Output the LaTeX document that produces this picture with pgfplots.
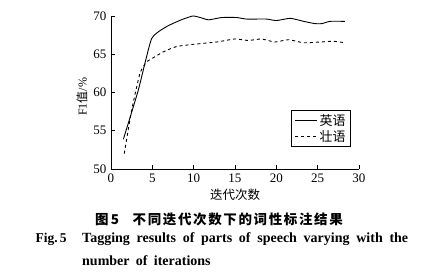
\documentclass[border=0pt]{standalone}
\usepackage{pgfplots}
\pgfplotsset{compat=1.18}
\usepackage{fontspec}
\setmainfont{Liberation Serif}
\newfontfamily\cjk{Noto Sans CJK SC}
\newfontfamily\cjkls[LetterSpace=12]{Noto Sans CJK SC}
\begin{document}
\begin{tikzpicture}
\path[use as bounding box] (0,0) rectangle (424pt,272pt);
\begin{axis}[
  at={(111pt,103pt)}, anchor=south west,
  scale only axis, width=248pt, height=153pt,
  xmin=0, xmax=30, ymin=50, ymax=70,
  axis x line*=bottom, axis y line*=left,
  axis line style={line width=0.8pt},
  xtick={0,5,...,30}, ytick={50,55,...,70},
  tick align=inside, major tick length=4pt,
  tick style={line width=0.7pt, black},
  tick label style={font=\fontsize{13}{13}\selectfont},
  /pgf/number format/assume math mode=true,
  xticklabel style={yshift=-1pt},
  yticklabel style={xshift=-1pt},
  clip=false,
  legend style={at={(0.968,0.144)}, anchor=south east, draw=black, line width=0.8pt,
    font=\cjk\fontsize{13}{15}\selectfont, inner xsep=3pt, inner ysep=2pt, row sep=-1pt,
    cells={anchor=west}},
  legend image code/.code={\draw[#1] (0pt,0pt) -- (22pt,0pt);},
]
\addplot[black, line width=0.9pt, smooth, tension=0.3] coordinates {
(1.5,53.9) (3.3,60.3) (4.9,67.0) (6.7,68.6) (8.5,69.5) (9.9,70.0) (10.8,69.8)
(11.8,69.5) (13.4,69.8) (15.2,69.8) (16.4,69.6) (18.8,69.6) (20.0,69.4)
(21.7,69.7) (23.3,69.3) (24.7,69.0) (25.5,69.0) (26.5,69.3) (28.3,69.3)};
\addlegendentry{英语}
\addplot[black, line width=0.9pt, dashed, smooth, tension=0.3] coordinates {
(1.6,52.0) (2.5,57.7) (3.5,62.5) (4.3,64.0) (4.9,64.4) (6.3,65.3) (7.9,66.0)
(10.0,66.3) (12.8,66.6) (15.0,67.0) (16.6,66.8) (18.2,67.0) (19.8,66.6)
(21.5,66.9) (23.3,66.5) (25.3,66.6) (26.9,66.7) (28.3,66.5)};
\addlegendentry{壮语}
\end{axis}
\node[rotate=90, font=\fontsize{12}{12}\selectfont] at (82pt,175pt) {F1{\cjk 值}/\%};
\node[font=\cjk\fontsize{12.5}{13}\selectfont] at (235pt,77pt) {迭代次数};
\node[font=\cjkls\bfseries\fontsize{13.5}{13}\selectfont] at (219pt,53pt) {图\,5\quad 不同迭代次数下的词性标注结果};
\node[anchor=west, font=\bfseries\fontsize{13.5}{14}\selectfont] at (32pt,33pt) {Fig.\,5};
\node[anchor=west, font=\bfseries\fontsize{14}{14}\selectfont, inner sep=0pt] at (82pt,33pt) {\makebox[326pt][s]{Tagging results of parts of speech varying with the}};
\node[anchor=west, font=\bfseries\fontsize{14}{14}\selectfont, inner sep=0pt] at (82pt,11pt) {number\hspace{0.45em}of\hspace{0.45em}iterations};
\end{tikzpicture}
\end{document}
